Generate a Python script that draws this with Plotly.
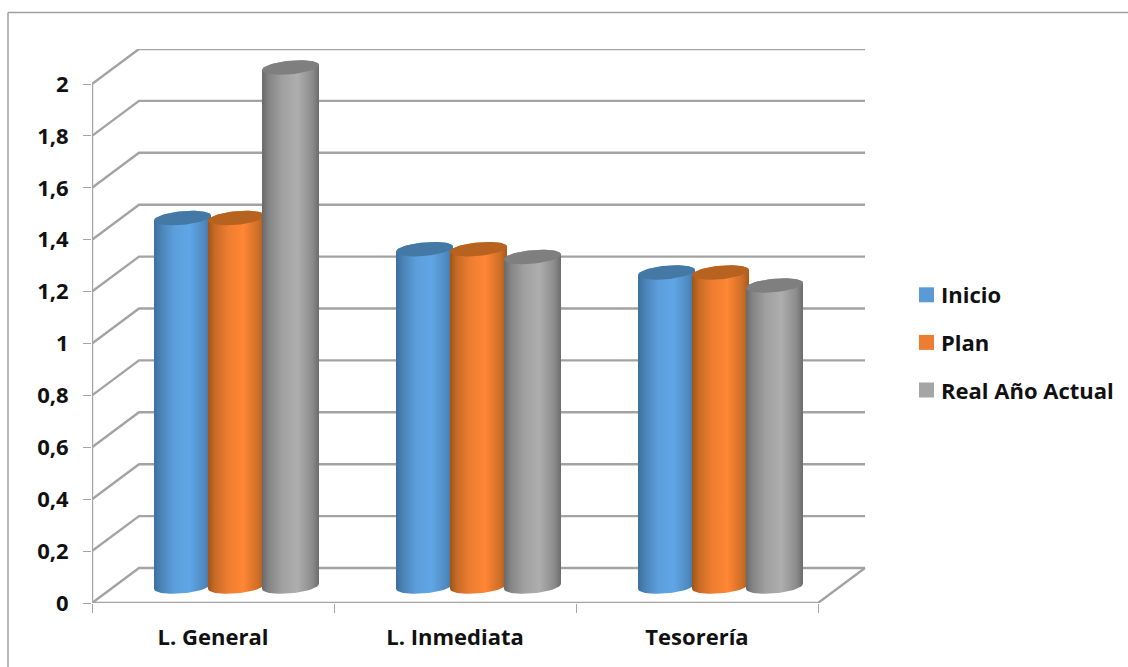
import numpy as np
import plotly.graph_objects as go

# Chart data
categories = ["L. General", "L. Inmediata", "Tesorería"]
inicio = [1.42, 1.30, 1.21]
plan = [1.42, 1.30, 1.21]
real_actual = [2.0, 1.27, 1.16]
series_names = ["Inicio", "Plan", "Real Año Actual"]
y_ticks = [0, 0.2, 0.4, 0.6, 0.8, 1, 1.2, 1.4, 1.6, 1.8, 2]
y_labels = ["0", "0,2", "0,4", "0,6", "0,8", "1", "1,2", "1,4", "1,6", "1,8", "2"]

# Page and plot-area geometry, in pixels
W, H = 1128, 667
LEFT, RIGHT, TOP, BOTTOM = 92, 866, 49, 603
PX_PER_CAT = 242.0
PX_PER_UNIT = 259.5

# Oblique projection of the chart's depth
DEPTH_X = 47 / PX_PER_CAT
DEPTH_Y = 35 / PX_PER_UNIT

# Cylinder shape
RX = 28.5
RY = 6.8
TILT = 2.5
STEP = 54
MID_DEPTH_X = 23.5 / PX_PER_CAT
MID_DEPTH_Y = 16.5 / PX_PER_UNIT

swatch_colors = ["#5B9BD5", "#ED7D31", "#A5A5A5"]
top_colors = ["#4479A6", "#B8621F", "#7F7F7F"]
side_scales = [
    [[0, "#3C6F9C"], [0.12, "#4A82B6"], [0.35, "#5C9EDB"], [0.62, "#60A6E6"], [0.88, "#4F8AC0"], [1, "#41739E"]],
    [[0, "#9C5519"], [0.12, "#C86A26"], [0.35, "#EE7D31"], [0.62, "#FF8634"], [0.88, "#CE6E28"], [1, "#A65A1C"]],
    [[0, "#696969"], [0.12, "#858585"], [0.35, "#A0A0A0"], [0.62, "#AEAEAE"], [0.88, "#8C8C8C"], [1, "#6C6C6C"]],
]
GRID = "#A3A3A3"


def ellipse(center_x, center_y, t):
    """Tilted ellipse around a data-space centre, sized in pixels."""
    x = center_x + RX * np.cos(t) / PX_PER_CAT
    y = center_y + (TILT * np.cos(t) + RY * np.sin(t)) / PX_PER_UNIT
    return x, y


fig = go.Figure()

# Back wall, side wall and floor lines
grid_x, grid_y = [], []
x_end = len(categories)
for v in y_ticks:
    grid_x += [0, DEPTH_X, x_end + DEPTH_X, None]
    grid_y += [v, v + DEPTH_Y, v + DEPTH_Y, None]
grid_x += [0, 0, None, 0, x_end, x_end + DEPTH_X]
grid_y += [0, y_ticks[-1], None, 0, 0, DEPTH_Y]
fig.add_trace(go.Scatter(x=grid_x, y=grid_y, mode="lines", cliponaxis=False,
                         line=dict(color=GRID, width=2.4), hoverinfo="skip", showlegend=False))

# Cylinders
for s, values in enumerate([inicio, plan, real_actual]):
    for c, value in enumerate(values):
        cx = c + 0.5 + MID_DEPTH_X + (s - 1) * STEP / PX_PER_CAT
        base_y = MID_DEPTH_Y
        top_y = value + MID_DEPTH_Y
        bx, by = ellipse(cx, base_y, np.linspace(np.pi, 2 * np.pi, 40))
        tx, ty = ellipse(cx, top_y, np.linspace(0, np.pi, 40))
        fig.add_trace(go.Scatter(
            x=np.r_[bx, tx, bx[0]], y=np.r_[by, ty, by[0]], mode="lines",
            fill="toself", line=dict(width=0),
            fillgradient=dict(type="horizontal", colorscale=side_scales[s]),
            hovertemplate=f"{categories[c]}<br>{series_names[s]}: {value}<extra></extra>",
            showlegend=False))
        ex, ey = ellipse(cx, top_y, np.linspace(0, 2 * np.pi, 80))
        fig.add_trace(go.Scatter(x=ex, y=ey, mode="lines", fill="toself",
                                 fillcolor=top_colors[s], line=dict(width=0),
                                 hoverinfo="skip", showlegend=False))

# Legend entries; the standoff brings each swatch closer to its label
for name, color in zip(series_names, swatch_colors):
    fig.add_trace(go.Scatter(x=[None], y=[None], mode="markers", name=name, legendgroup=name,
                             marker=dict(symbol="square", size=15, color=color, angle=90, standoff=5.5)))

label_font = dict(family="Open Sans", size=22, color="#111111", weight=700)
plot_w = RIGHT - LEFT
plot_h = BOTTOM - TOP
frame_x0 = (8 - LEFT) / plot_w
frame_x1 = (W - LEFT) / plot_w
frame_y0 = (BOTTOM - H) / plot_h
frame_y1 = (BOTTOM - 12.5) / plot_h

fig.update_layout(
    width=W, height=H, autosize=False,
    margin=dict(l=LEFT, r=W - RIGHT, t=TOP, b=H - BOTTOM, pad=0, autoexpand=False),
    paper_bgcolor="white", plot_bgcolor="white",
    xaxis=dict(range=[0, plot_w / PX_PER_CAT], tickmode="array",
               tickvals=[i + 0.5 for i in range(len(categories))], ticktext=categories,
               ticks="", showgrid=False, zeroline=False, showline=False,
               tickfont=label_font, ticklabelstandoff=19,
               minor=dict(tickmode="array", tickvals=list(range(len(categories) + 1)),
                          ticks="outside", ticklen=9, tickwidth=1, tickcolor=GRID, showgrid=False)),
    yaxis=dict(range=[0, plot_h / PX_PER_UNIT], tickmode="array",
               tickvals=y_ticks, ticktext=y_labels, ticks="outside", ticklen=8, tickwidth=1,
               tickcolor=GRID, showgrid=False, zeroline=False, showline=False,
               tickfont=label_font, ticklabelstandoff=10),
    legend=dict(x=(901 - LEFT) / plot_w, y=(BOTTOM - 274) / plot_h, xanchor="left", yanchor="top",
                font=label_font, bgcolor="rgba(0,0,0,0)", tracegroupgap=16, itemclick=False,
                itemdoubleclick=False),
    shapes=[
        dict(type="line", xref="paper", yref="paper", x0=frame_x0, x1=frame_x0, y0=frame_y0, y1=frame_y1,
             line=dict(color="#A0A0A0", width=1.5), layer="below"),
        dict(type="line", xref="paper", yref="paper", x0=frame_x0, x1=frame_x1, y0=frame_y1, y1=frame_y1,
             line=dict(color="#A0A0A0", width=1.5), layer="below"),
    ],
    showlegend=True,
)

fig.write_html("out.html")
